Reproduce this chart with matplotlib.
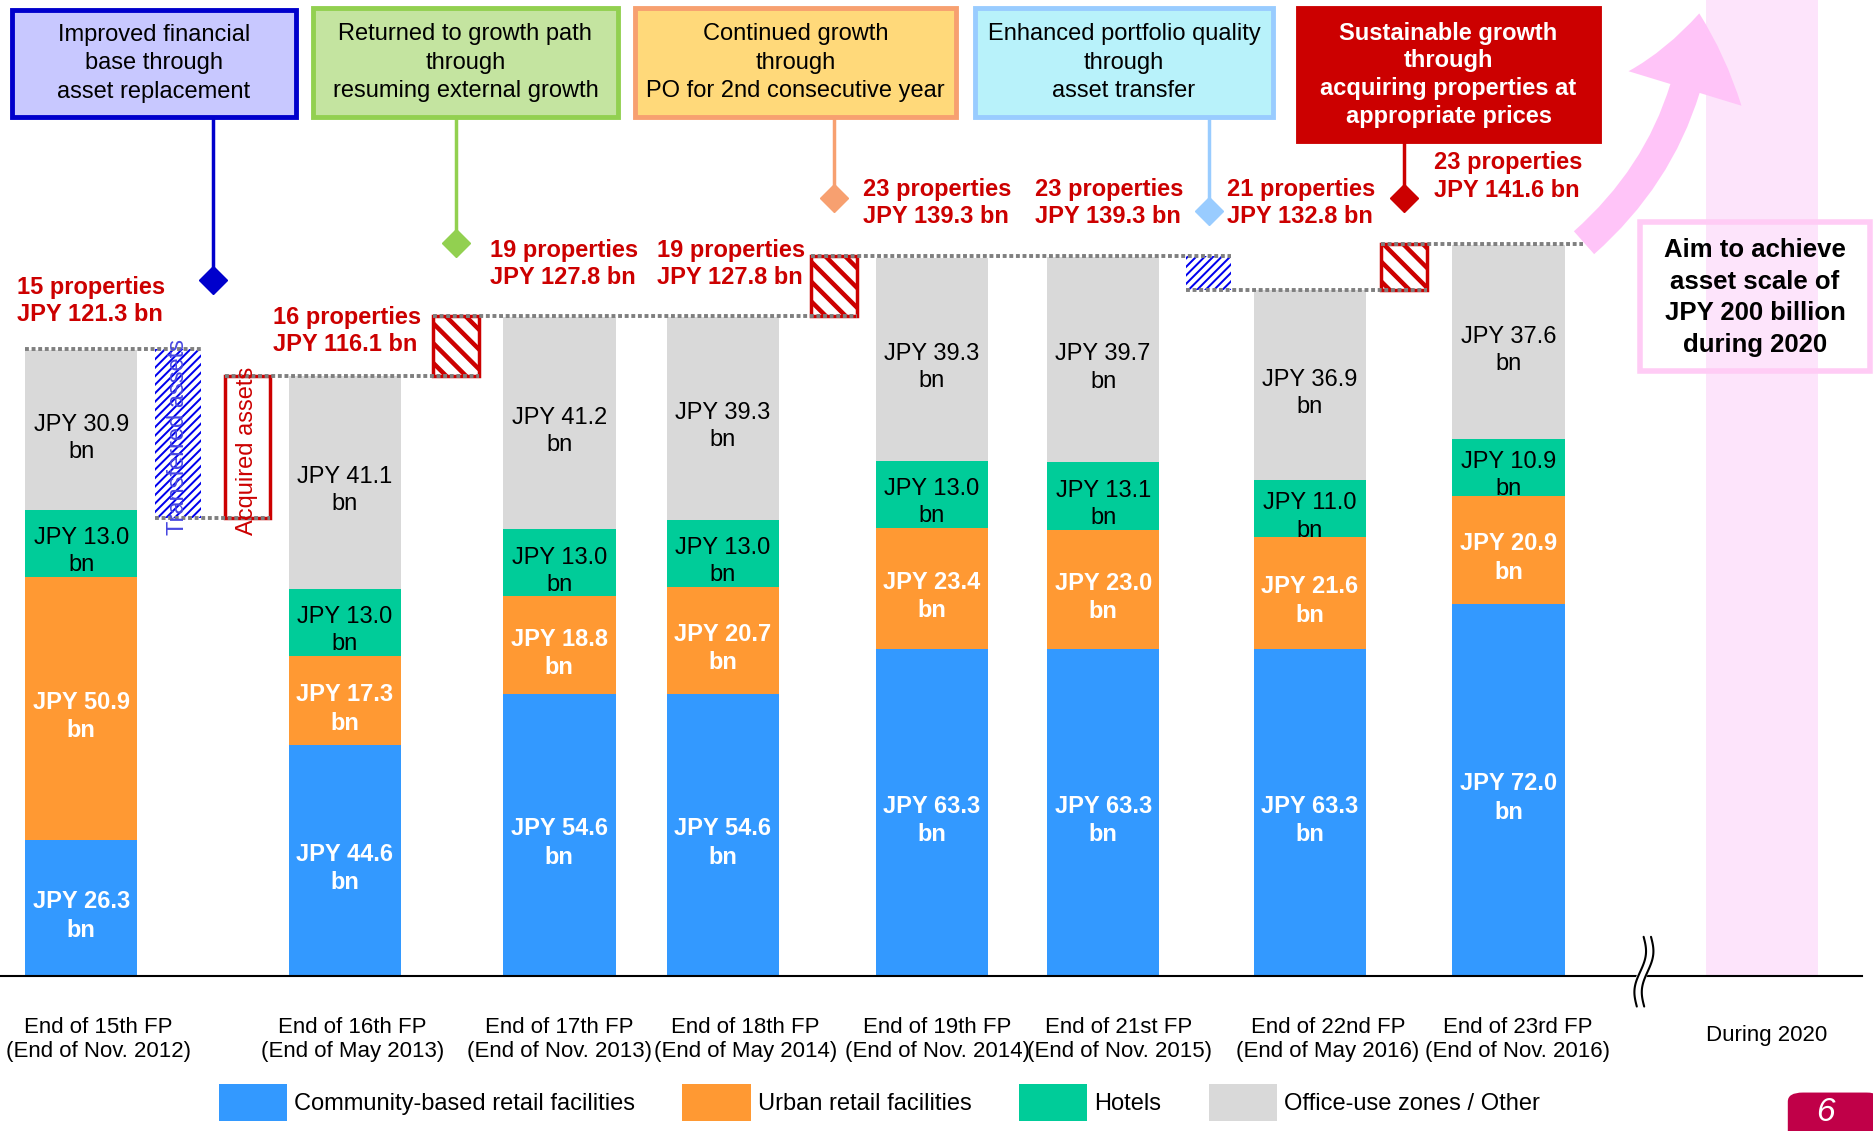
import matplotlib

matplotlib.use("Agg")
import matplotlib.pyplot as plt
import numpy as np
from matplotlib.patches import FancyArrowPatch, FancyBboxPatch, Rectangle

plt.rcParams["font.family"] = ["Liberation Sans", "DejaVu Sans"]

# ---- data -------------------------------------------------------------
PERIODS = [
    "End of 15th FP\n(End of Nov. 2012)",
    "End of 16th FP\n(End of May 2013)",
    "End of 17th FP\n(End of Nov. 2013)",
    "End of 18th FP\n(End of May 2014)",
    "End of 19th FP\n(End of Nov. 2014)",
    "End of 21st FP\n(End of Nov. 2015)",
    "End of 22nd FP\n(End of May 2016)",
    "End of 23rd FP\n(End of Nov. 2016)",
]
TARGET_PERIOD = "During 2020"
TARGET_VALUE = 200.0

COMMUNITY = [26.3, 44.6, 54.6, 54.6, 63.3, 63.3, 63.3, 72.0]
URBAN = [50.9, 17.3, 18.8, 20.7, 23.4, 23.0, 21.6, 20.9]
HOTELS = [13.0, 13.0, 13.0, 13.0, 13.0, 13.1, 11.0, 10.9]
OFFICE = [30.9, 41.1, 41.2, 39.3, 39.3, 39.7, 36.9, 37.6]
PROPERTIES = [15, 16, 19, 19, 23, 23, 21, 23]
TOTALS = [121.3, 116.1, 127.8, 127.8, 139.3, 139.3, 132.8, 141.6]

SEGMENT_NAMES = ["Community-based retail facilities", "Urban retail facilities",
                 "Hotels", "Office-use zones / Other"]

# portfolio moves between periods (start level, end level)
MOVES = [(121.3, 88.6), (88.6, 116.1), (116.1, 127.8),
         (127.8, 139.3), (139.3, 132.8), (132.8, 141.6)]
MOVE_TEXT = ["Transferred assets", "Acquired assets", None, None, None, None]

THEMES = [
    "Improved financial\nbase through\nasset replacement",
    "Returned to growth path\nthrough\nresuming external growth",
    "Continued growth\nthrough\nPO for 2nd consecutive year",
    "Enhanced portfolio quality\nthrough\nasset transfer",
    "Sustainable growth\nthrough\nacquiring properties at\nappropriate prices",
]
GOAL_TEXT = "Aim to achieve\nasset scale of\nJPY 200 billion\nduring 2020"

# ---- layout / style ---------------------------------------------------
COLORS = ["#3399FF", "#FF9933", "#00CC99", "#D9D9D9"]
RED = "#CC0000"
BAR_X = [0.0, 2.32, 4.21, 5.65, 7.49, 9.0, 10.82, 12.57]
TICK_SHIFT = [0.15, 0.07, 0.0, 0.2, 0.05, 0.14, 0.16, 0.08]
TARGET_X = 14.80
MOVE_X = [0.852, 1.463, 3.30, 6.63, 9.93, 11.65]
MOVE_STYLE = ["blue", "outline", "red", "red", "blue", "red"]
ANNOT_Y = [125.7, 119.9, 132.9, 132.9, 144.7, 144.7, 144.7, 149.8]
ANNOT_SHIFT = [0.09, 0.02, 0.04, 0.07, 0.05, 0.05, -0.08, 0.0]
DIAMOND_X = [1.158, 3.30, 6.63, 9.93, 11.65]
DIAMOND_Y = [134.7, 141.9, 150.5, 148.1, 150.5]
THEME_BOX = [  # left, right, top, bottom in axes fraction
    (0.0064, 0.158, 0.9915, 0.8964),
    (0.167, 0.3297, 0.9926, 0.8964),
    (0.3387, 0.5102, 0.9926, 0.8964),
    (0.5204, 0.6792, 0.9926, 0.8964),
    (0.6926, 0.8533, 0.9926, 0.8753),
]
THEME_FACE = ["#C8C8FF", "#C4E4A0", "#FFD97A", "#B8F2FA", "#CC0000"]
THEME_EDGE = ["#0000CC", "#92D050", "#F7A070", "#99CCFF", "#CC0000"]
XMIN, XMAX = -0.716, 15.789
YMIN, YMAX = -30.1, 188.9
FIG_W, FIG_H = 1874, 1131
W = 0.99
MW = 0.4


def to_data_y(f):
    return YMIN + f * (YMAX - YMIN)


def striped_box(ax, x0, y0, w, h, spacing, lw, color, slope, z):
    """White box filled with diagonal stripes (spacing / lw in pixels)."""
    sx = FIG_W / (XMAX - XMIN)
    sy = FIG_H / (YMAX - YMIN)
    base = Rectangle((x0, y0), w, h, facecolor="white", edgecolor="none", zorder=z)
    ax.add_patch(base)
    wp, hp = w * sx, h * sy
    step = spacing * np.sqrt(2)
    for c in np.arange(-wp - hp, wp + hp, step):
        px = np.array([-hp, wp + hp])
        py = slope * px + c
        line, = ax.plot(x0 + px / sx, y0 + py / sy, color=color, lw=lw * 0.72,
                        solid_capstyle="butt", zorder=z + 0.1)
        line.set_clip_path(base)


fig = plt.figure(figsize=(FIG_W / 100, FIG_H / 100), dpi=100)
ax = fig.add_axes([0, 0, 1, 1])
ax.set_xlim(XMIN, XMAX)
ax.set_ylim(YMIN, YMAX)
ax.axis("off")

# 2020 target column
ax.bar(TARGET_X, TARGET_VALUE, width=W, color="#FDE4FB", zorder=0)

# stacked bars
bottoms = np.zeros(len(BAR_X))
for seg, (values, color) in enumerate(zip([COMMUNITY, URBAN, HOTELS, OFFICE], COLORS)):
    values = np.array(values)
    ax.bar(BAR_X, values, width=W, bottom=bottoms, color=color, label=SEGMENT_NAMES[seg], zorder=2)
    for x, b, v in zip(BAR_X, bottoms, values):
        bold = seg < 2
        ax.text(x, b + v / 2 - 1.6, f"JPY {v:.1f}\nbn", ha="center", va="center",
                fontsize=17, color="white" if bold else "black",
                fontweight="bold" if bold else "normal", linespacing=1.3, zorder=4)
    bottoms += values

# moves (hatched boxes) and dotted level lines
dot = dict(color="#7F7F7F", lw=2.8, ls=(0, (1, 0.7)), zorder=3.5)
ax.plot([BAR_X[0] - W / 2, MOVE_X[0] + MW / 2], [MOVES[0][0]] * 2, **dot)
for i, ((start, end), x, style) in enumerate(zip(MOVES, MOVE_X, MOVE_STYLE)):
    lo, hi = min(start, end), max(start, end)
    if style == "blue":
        striped_box(ax, x - MW / 2, lo, MW, hi - lo, 6.0, 2.0, "#0000EE", 1, 3)
    elif style == "red":
        striped_box(ax, x - MW / 2, lo, MW, hi - lo, 14.0, 4.5, RED, -1, 3)
        ax.add_patch(Rectangle((x - MW / 2, lo), MW, hi - lo, facecolor="none",
                               edgecolor=RED, lw=2.5, zorder=3.3))
    else:
        ax.add_patch(Rectangle((x - MW / 2, lo), MW, hi - lo, facecolor="white",
                               edgecolor=RED, lw=2.5, zorder=3))
    right = MOVE_X[i + 1] + MW / 2 if i + 1 < len(MOVES) else BAR_X[-1] + W / 2 + 0.16
    ax.plot([x - MW / 2, right], [end, end], **dot)
    if MOVE_TEXT[i]:
        ax.text(x, (lo + hi) / 2 - 0.7, MOVE_TEXT[i], rotation=90, ha="center", va="center",
                fontsize=17, color="#4848E0" if style == "blue" else RED, zorder=5)

# property count annotations
for x, s, y, n, t in zip(BAR_X, ANNOT_SHIFT, ANNOT_Y, PROPERTIES, TOTALS):
    ax.text(x + s, y, f"{n} properties\nJPY {t:.1f} bn", ha="center", va="bottom",
            multialignment="left", fontsize=17, fontweight="bold", color=RED,
            linespacing=1.26, zorder=5)

# theme boxes with connectors
for i, (text, (l, r, t, b)) in enumerate(zip(THEMES, THEME_BOX)):
    ax.add_patch(Rectangle((l, b), r - l, t - b, transform=ax.transAxes,
                           facecolor=THEME_FACE[i], edgecolor=THEME_EDGE[i], lw=3.5, zorder=6))
    last = i == len(THEMES) - 1
    ax.text((l + r) / 2, (t + b) / 2, text, transform=ax.transAxes, ha="center", va="center",
            fontsize=17, color="white" if last else "black",
            fontweight="bold" if last else "normal",
            linespacing=1.26 if last else 1.37, zorder=7)
    ax.plot([DIAMOND_X[i]] * 2, [DIAMOND_Y[i], to_data_y(b)], color=THEME_EDGE[i], lw=2.5, zorder=5)
    ax.plot(DIAMOND_X[i], DIAMOND_Y[i], marker="D", ms=14, color=THEME_EDGE[i], zorder=5)

# growth arrow to 2020 target
arrow = FancyArrowPatch((BAR_X[-1] + W / 2 + 0.17, TOTALS[-1] + 0.3), (14.25, 186.3),
                        connectionstyle="arc3,rad=0.2",
                        arrowstyle="simple,head_width=8.5,head_length=5.5,tail_width=2.2",
                        mutation_scale=10, color="#FFC4F8", lw=0, shrinkA=0, shrinkB=0,
                        zorder=1)
ax.add_patch(arrow)

# goal box
ax.add_patch(Rectangle((0.875, 0.6723), 0.123, 0.1311, transform=ax.transAxes,
                       facecolor="none", edgecolor="#FFCCF5", lw=4, zorder=6))
ax.text(0.9365, 0.737, GOAL_TEXT, transform=ax.transAxes, ha="center", va="center",
        fontsize=18.5, fontweight="bold", linespacing=1.4, zorder=7)

# baseline with break mark
ax.plot([XMIN, 15.68], [0, 0], color="black", lw=1.5, zorder=3)
bx = 13.76
t = np.linspace(0, 1, 40)
ys = 7.5 - 13.5 * t
for dx, c, lw in [(0.03, "white", 7), (0.0, "black", 1.5), (0.065, "black", 1.5)]:
    xs = bx + dx + 0.035 * np.sin(2 * np.pi * t) - 0.06 * t
    ax.plot(xs, ys, color=c, lw=lw, zorder=4, solid_capstyle="round")

# x labels
for x, s, lab in zip(BAR_X, TICK_SHIFT, PERIODS):
    ax.text(x + s, -12.3, lab, ha="center", va="center", fontsize=16, linespacing=1.18)
ax.text(TARGET_X + 0.04, -11.6, TARGET_PERIOD, ha="center", va="center", fontsize=16)

# legend
handles, labels = ax.get_legend_handles_labels()
fig.legend(handles, labels, loc="center left", bbox_to_anchor=(0.1167, 0.0254),
           ncol=4, frameon=False, fontsize=17, handlelength=2.9, handleheight=2.0,
           handletextpad=0.3, columnspacing=2.0, borderpad=0, borderaxespad=0)

# page number
ax.add_patch(FancyBboxPatch((0.954, -0.02), 0.05, 0.054, transform=ax.transAxes,
                            boxstyle="round,pad=0,rounding_size=0.008",
                            facecolor="#C00048", edgecolor="none", zorder=8))
ax.text(0.974, 0.016, "6", transform=ax.transAxes, ha="center", va="center",
        fontsize=24, style="italic", color="white", zorder=9)

fig.savefig("out.png", dpi=100)
